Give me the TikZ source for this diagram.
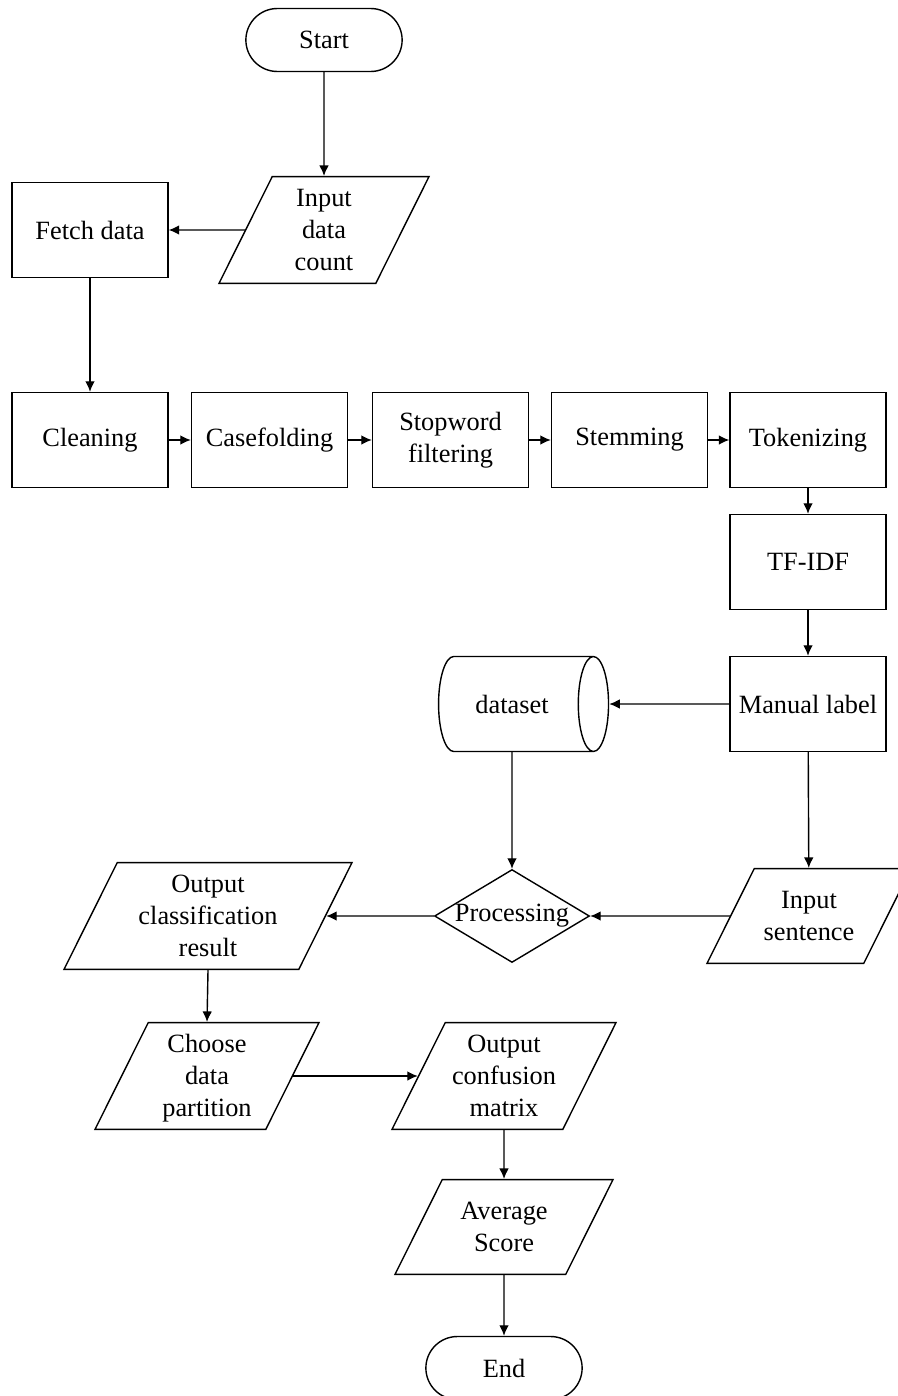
\documentclass[tikz,border=0pt]{standalone}
\usepackage{fontspec}
\setmainfont{Liberation Serif}
\usepackage{tikz}
\usetikzlibrary{shapes.geometric,shapes.misc,arrows.meta}

\begin{document}
\begin{tikzpicture}[x=0.02cm,y=-0.02cm,
    every node/.style={font=\fontsize{15}{18.2}\selectfont,align=center,line width=0.8pt},
    terminal/.style={rounded rectangle,draw,minimum width=3.36cm,minimum height=1.26cm},
    process/.style={rectangle,draw,minimum width=3.12cm,minimum height=1.9cm},
    io/.style={trapezium,draw,trapezium left angle=63.5,trapezium right angle=116.5,
        trapezium stretches body,inner xsep=0pt,inner ysep=0pt},
    iotwo/.style={io,text height=41pt,text depth=12.9pt},
    iothree/.style={io,text height=53.5pt,text depth=7.2pt},
    decision/.style={diamond,draw,aspect=1.67,inner sep=0pt,minimum width=3.1cm,minimum height=1.86cm},
    store/.style={cylinder,draw,shape aspect=1,minimum width=1.9cm,minimum height=3.4cm},
    flow/.style={-{Latex[length=6pt,width=5.5pt]},line width=0.8pt}]

    \useasboundingbox (0,0) rectangle (897,1396);

    % start and input
    \node[terminal] (start) at (324,40) {Start};
    \node[iothree,minimum width=4.2cm] (count) at (324,230) {Input\\data\\count};
    \node[process] (fetch) at (90,230) {Fetch data};

    % preprocessing row
    \node[process] (clean) at (90,440) {Cleaning};
    \node[process] (casefold) at (269.5,440) {Casefolding};
    \node[process] (stopword) at (450.5,440) {Stopword\\filtering};
    \node[process] (stem) at (629.5,440) {Stemming};
    \node[process] (token) at (808,440) {Tokenizing};

    % weighting and labelling
    \node[process] (tfidf) at (808,562) {TF-IDF};
    \node[process] (manual) at (808,704) {Manual label};
    \node[store] (dataset) at (512,704) {dataset};

    % classification
    \node[decision] (proc) at (512,916) {Processing};
    \node[iotwo,minimum width=4.08cm] (sentence) at (809,916) {Input\\sentence};
    \node[iothree,minimum width=5.76cm] (result) at (208,916) {Output\\classification\\result};

    % evaluation
    \node[iothree,minimum width=4.48cm] (partition) at (207,1076) {Choose\\data\\partition};
    \node[iothree,minimum width=4.48cm] (confusion) at (504,1076) {Output\\confusion\\matrix};
    \node[iotwo,minimum width=4.36cm] (average) at (504,1227) {Average\\Score};
    \node[terminal] (end) at (504,1368) {End};

    % connectors
    \draw[flow] (start) -- (count);
    \draw[flow] (count.west) -- (fetch.east);
    \draw[flow] (fetch) -- (clean);
    \draw[flow] (clean) -- (casefold);
    \draw[flow] (casefold) -- (stopword);
    \draw[flow] (stopword) -- (stem);
    \draw[flow] (stem) -- (token);
    \draw[flow] (token) -- (tfidf);
    \draw[flow] (tfidf) -- (manual);
    \draw[flow] (manual) -- (dataset);
    \draw[flow] (dataset) -- (proc);
    \draw[flow] (manual) -- (sentence);
    \draw[flow] (sentence.west) -- (proc.east);
    \draw[flow] (proc.west) -- (result.east);
    \draw[flow] (result.south) -- (partition.north);
    \draw[flow] (partition.east) -- (confusion.west);
    \draw[flow] (confusion) -- (average);
    \draw[flow] (average) -- (end);

\end{tikzpicture}
\end{document}
